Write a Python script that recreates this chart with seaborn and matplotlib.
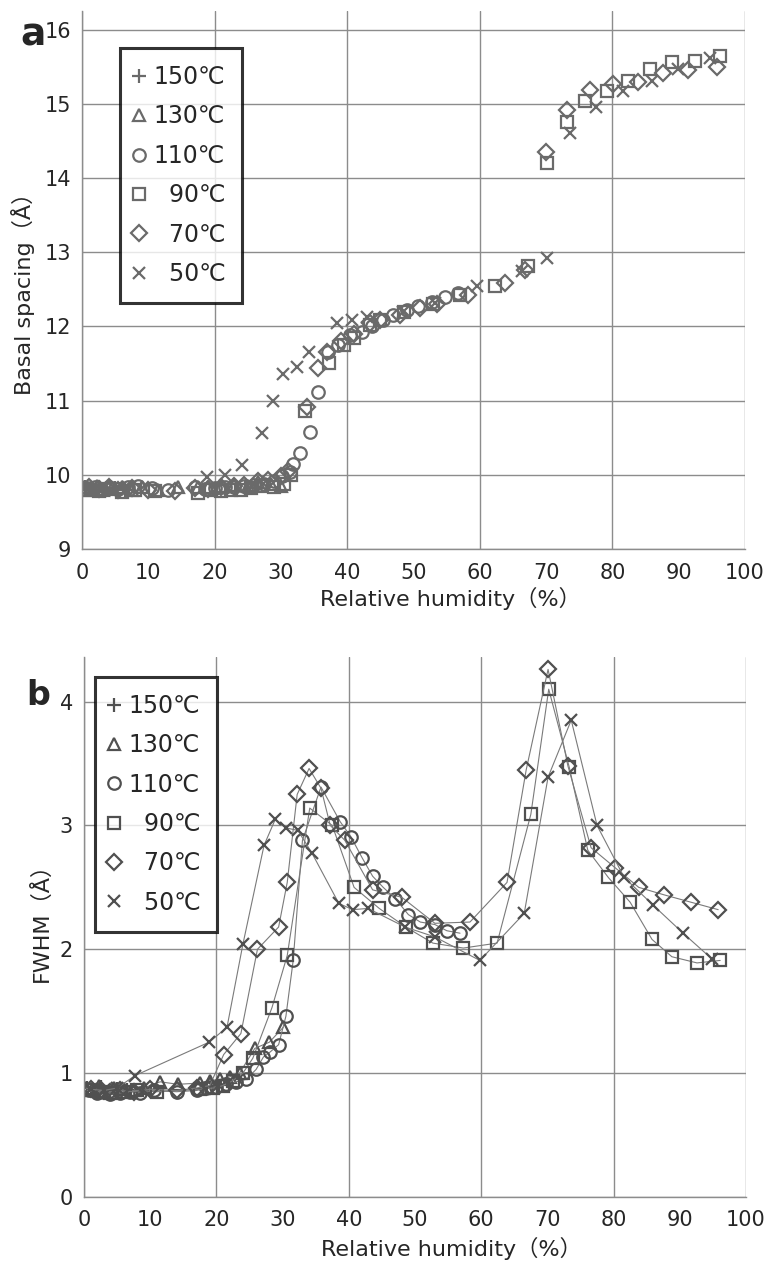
import matplotlib
matplotlib.use("Agg")
import matplotlib.pyplot as plt
import seaborn as sns
import pandas as pd
from matplotlib.lines import Line2D
from matplotlib.ticker import MultipleLocator

sns.set_style("white")
plt.rcParams['font.family'] = ['DejaVu Sans', 'Noto Sans CJK JP']

labels = ["150℃", "130℃", "110℃", "  90℃", "  70℃", "  50℃"]
markers = ["+", "^", "o", "s", "D", "x"]
msizes = [10, 9, 9, 9, 8, 9]

# ---- panel a: basal spacing ----
a150_x = [0.5, 1.5, 2.5, 3.5, 5, 6.5]
a150_y = [9.84, 9.80, 9.83, 9.78, 9.82, 9.80]
a130_x = [0.3, 1.2, 2.2, 3.2, 4.5, 6, 7.5, 9, 11.5, 14.5, 17.5, 19, 21, 23, 25, 26.5, 28.5, 30]
a130_y = [9.83, 9.80, 9.85, 9.79, 9.82, 9.84, 9.80, 9.83, 9.80, 9.84, 9.84, 9.83, 9.85, 9.86, 9.85, 9.90, 9.88, 9.85]
a110_x = [0.8, 2, 3, 4, 5.5, 7, 8.5, 10.5, 13, 17, 18.5, 20, 21.5, 23, 24.5, 26, 27.5, 29, 30.2, 31.4, 31.8,
          32.9, 34.4, 35.6, 37.1, 38.6, 40.4, 42.2, 43.8, 45.4, 46.9, 49, 50.7, 52.8, 54.8, 56.7]
a110_y = [9.82, 9.84, 9.80, 9.83, 9.81, 9.84, 9.85, 9.82, 9.80, 9.83, 9.81, 9.82, 9.83, 9.84, 9.85, 9.86, 9.88,
          9.92, 9.98, 10.04, 10.15, 10.30, 10.58, 11.12, 11.65, 11.75, 11.88, 11.93, 12.0, 12.08, 12.16, 12.22,
          12.28, 12.33, 12.39, 12.45]
a90_x = [0.5, 2.5, 4, 6, 8, 11, 17.5, 19.5, 21, 22.5, 24, 25.5, 27, 29, 30.5, 31.5, 33.6, 37.3, 39.5, 41, 43.5,
         45, 48.6, 53, 57, 62.3, 67.3, 70.1, 73.2, 75.9, 79.2, 82.4, 85.7, 89, 92.5, 96.2]
a90_y = [9.80, 9.78, 9.81, 9.77, 9.79, 9.78, 9.76, 9.79, 9.78, 9.80, 9.79, 9.82, 9.85, 9.84, 9.87, 10.0, 10.86,
         11.5, 11.75, 11.85, 12.02, 12.08, 12.2, 12.3, 12.42, 12.55, 12.82, 14.2, 14.75, 15.04, 15.17, 15.3,
         15.47, 15.56, 15.58, 15.65]
a70_x = [1, 2.5, 4, 5.5, 7.5, 10, 14, 17, 19, 21, 23, 24.5, 26.5, 28, 30, 31, 33.9, 35.6, 37, 39, 41, 43.5, 45,
         48, 51, 53.5, 58.2, 63.8, 66.8, 70, 73.2, 76.6, 80.1, 83.8, 87.6, 91.4, 95.8]
a70_y = [9.83, 9.81, 9.84, 9.80, 9.82, 9.80, 9.78, 9.82, 9.81, 9.83, 9.85, 9.86, 9.92, 9.93, 9.98, 10.05, 10.92,
         11.44, 11.65, 11.8, 11.9, 12.05, 12.08, 12.15, 12.25, 12.3, 12.42, 12.59, 12.76, 14.35, 14.92, 15.18,
         15.27, 15.29, 15.41, 15.45, 15.5]
a50_x = [0.5, 2, 3.5, 5, 7, 18.9, 21.6, 24.1, 27.1, 28.8, 30.3, 32.4, 34.2, 38.5, 40.7, 43, 48.4, 53.2, 59.6,
         66.4, 70.1, 73.6, 77.5, 81.6, 86, 89.9, 94.7]
a50_y = [9.82, 9.80, 9.84, 9.81, 9.83, 9.97, 10.0, 10.13, 10.56, 11.0, 11.36, 11.45, 11.65, 12.04, 12.08, 12.12,
         12.2, 12.32, 12.55, 12.75, 12.92, 14.6, 14.96, 15.17, 15.31, 15.47, 15.62]

# ---- panel b: FWHM ----
b150_x = [0.5, 1.5, 2.5, 3.5, 5, 6.5]
b150_y = [0.88, 0.86, 0.89, 0.85, 0.87, 0.86]
b130_x = [0.3, 1.2, 2.2, 3.2, 4.5, 6, 7.5, 9, 11.5, 14.2, 17.5, 19, 20.5, 22, 23.5, 25.8, 28, 30.1]
b130_y = [0.88, 0.86, 0.90, 0.85, 0.88, 0.87, 0.86, 0.88, 0.93, 0.91, 0.92, 0.94, 0.95, 0.97, 1.0, 1.2, 1.25, 1.37]
b110_x = [0.8, 2, 3, 4, 5.5, 7, 8.5, 10.5, 14, 17, 18.5, 20, 21.5, 23, 24.5, 26, 27.1, 28.1, 29.4, 30.5, 31.6,
          33, 35.8, 38.7, 40.3, 42, 43.6, 45.2, 47, 49, 50.8, 53, 54.8, 56.8]
b110_y = [0.86, 0.84, 0.85, 0.83, 0.84, 0.85, 0.84, 0.86, 0.85, 0.86, 0.88, 0.89, 0.91, 0.93, 0.95, 1.03, 1.13,
          1.17, 1.23, 1.46, 1.91, 2.88, 3.31, 3.03, 2.91, 2.74, 2.59, 2.50, 2.41, 2.28, 2.22, 2.20, 2.15, 2.13]
b90_x = [0.5, 2.5, 4, 6, 8, 11, 17.5, 19.5, 21, 22.5, 24, 25.5, 28.4, 30.7, 34.1, 37.5, 40.8, 44.6, 48.6, 52.7,
         57.3, 62.4, 67.5, 70.2, 73.3, 76.1, 79.2, 82.5, 85.8, 88.8, 92.6, 96.1]
b90_y = [0.86, 0.85, 0.84, 0.85, 0.86, 0.85, 0.87, 0.88, 0.90, 0.94, 1.0, 1.12, 1.53, 1.95, 3.14, 3.0, 2.5, 2.33,
         2.18, 2.05, 2.01, 2.05, 3.09, 4.10, 3.47, 2.80, 2.58, 2.38, 2.08, 1.94, 1.89, 1.91]
b70_x = [1, 2.5, 4, 5.5, 7.5, 10, 14, 17, 19, 21.1, 23.7, 26.2, 29.4, 30.7, 32.2, 34.0, 35.8, 37.2, 39.4, 43.6,
         48, 53, 58.3, 63.9, 66.8, 70.1, 73.1, 76.6, 80.2, 83.8, 87.6, 91.7, 95.8]
b70_y = [0.87, 0.86, 0.85, 0.86, 0.85, 0.87, 0.86, 0.88, 0.90, 1.15, 1.32, 2.0, 2.18, 2.54, 3.25, 3.46, 3.30, 3.0,
         2.88, 2.48, 2.42, 2.21, 2.22, 2.54, 3.45, 4.26, 3.48, 2.82, 2.66, 2.5, 2.44, 2.38, 2.32]
b50_x = [1, 3, 5, 7.7, 18.9, 21.6, 24.0, 27.2, 28.9, 30.5, 32.3, 34.4, 38.5, 40.6, 42.9, 48.5, 53, 59.8, 66.5,
         70.1, 73.6, 77.5, 81.6, 85.9, 90.5, 94.9]
b50_y = [0.87, 0.86, 0.88, 0.98, 1.25, 1.37, 2.04, 2.84, 3.05, 2.98, 2.96, 2.78, 2.37, 2.32, 2.33, 2.18, 2.1,
         1.91, 2.29, 3.39, 3.85, 3.0, 2.58, 2.36, 2.13, 1.92]

a_series = [(a150_x, a150_y), (a130_x, a130_y), (a110_x, a110_y), (a90_x, a90_y), (a70_x, a70_y), (a50_x, a50_y)]
b_series = [(b150_x, b150_y), (b130_x, b130_y), (b110_x, b110_y), (b90_x, b90_y), (b70_x, b70_y), (b50_x, b50_y)]

W, H = 765, 1261
fig = plt.figure(figsize=(W / 100, H / 100), dpi=100)
ax_a = fig.add_axes([82 / W, 1 - 549 / H, (745 - 82) / W, (549 - 11) / H])
ax_b = fig.add_axes([84 / W, 1 - 1197 / H, (746 - 84) / W, (1197 - 657) / H])

mcol_a = "#6a6a6a"
mcol_b = "#505050"

for (xs, ys), m, ms in zip(a_series, markers, msizes):
    df = pd.DataFrame({"x": xs, "y": ys})
    sns.lineplot(data=df, x="x", y="y", ax=ax_a, estimator=None, sort=False, linestyle="none",
                 marker=m, markersize=ms, markerfacecolor="none", markeredgecolor=mcol_a,
                 markeredgewidth=1.6, color=mcol_a)

for (xs, ys), m, ms in zip(b_series, markers, msizes):
    df = pd.DataFrame({"x": xs, "y": ys})
    sns.lineplot(data=df, x="x", y="y", ax=ax_b, estimator=None, sort=False, linewidth=0.8,
                 color="#7a7a7a", marker=m, markersize=ms, markerfacecolor="none",
                 markeredgecolor=mcol_b, markeredgewidth=1.6)

def style_axes(ax, ymin, ymax, ystep, xpad):
    ax.set_xlim(0, 100)
    ax.set_ylim(ymin, ymax)
    ax.xaxis.set_major_locator(MultipleLocator(20))
    ax.xaxis.set_minor_locator(MultipleLocator(10))
    ax.xaxis.set_minor_formatter(plt.FuncFormatter(lambda v, p: f"{v:g}"))
    ax.yaxis.set_major_locator(MultipleLocator(ystep))
    ax.grid(True, which="major", color="#8c8c8c", linewidth=1.0)
    ax.grid(False, which="minor")
    for s in ["top", "right"]:
        ax.spines[s].set_visible(False)
    for s in ["left", "bottom"]:
        ax.spines[s].set_color("#8c8c8c")
        ax.spines[s].set_linewidth(1.0)
    ax.tick_params(axis="x", which="both", direction="in", length=5, color="#8c8c8c",
                   labelsize=15, pad=xpad)
    ax.tick_params(axis="y", which="both", direction="out", length=5, color="#8c8c8c",
                   labelsize=15, pad=3)
    ax.set_axisbelow(True)

style_axes(ax_a, 9, 16.25, 1, 10)
style_axes(ax_b, 0, 4.36, 1, 9)

ax_a.set_xlabel("Relative humidity（%）", fontsize=16, va="top")
ax_a.xaxis.set_label_coords(0.555, -0.070)
ax_a.set_ylabel("Basal spacing（Å）", fontsize=16)
ax_a.yaxis.set_label_coords(-0.071, 0.485)
ax_b.set_xlabel("Relative humidity（%）", fontsize=16, va="top")
ax_b.xaxis.set_label_coords(0.555, -0.074)
ax_b.set_ylabel("FWHM（Å）", fontsize=16)
ax_b.yaxis.set_label_coords(-0.048, 0.519)

def make_legend(ax, col, anchor):
    handles = [Line2D([], [], linestyle="none", marker=m, markersize=ms, markerfacecolor="none",
                      markeredgecolor=col, markeredgewidth=1.6) for m, ms in zip(markers, msizes)]
    leg = ax.legend(handles, labels, loc="upper left", bbox_to_anchor=anchor, frameon=True,
                    fancybox=False, edgecolor="black", fontsize=17, handlelength=0.2,
                    handletextpad=0.5, labelspacing=0.65, borderpad=0.72, borderaxespad=0)
    leg.get_frame().set_linewidth(2.2)
    return leg

make_legend(ax_a, mcol_a, (0.0573, 0.931))
make_legend(ax_b, mcol_b, (0.0166, 0.963))

fig.text(46 / W, 1 - 46 / H, "a", fontsize=27, fontweight="bold", family=["DejaVu Sans"],
         va="baseline", ha="right")
fig.text(26 / W, 1 - 705 / H, "b", fontsize=24, fontweight="bold", family=["DejaVu Sans"],
         va="baseline", ha="left")

fig.savefig("out.png", dpi=100)
